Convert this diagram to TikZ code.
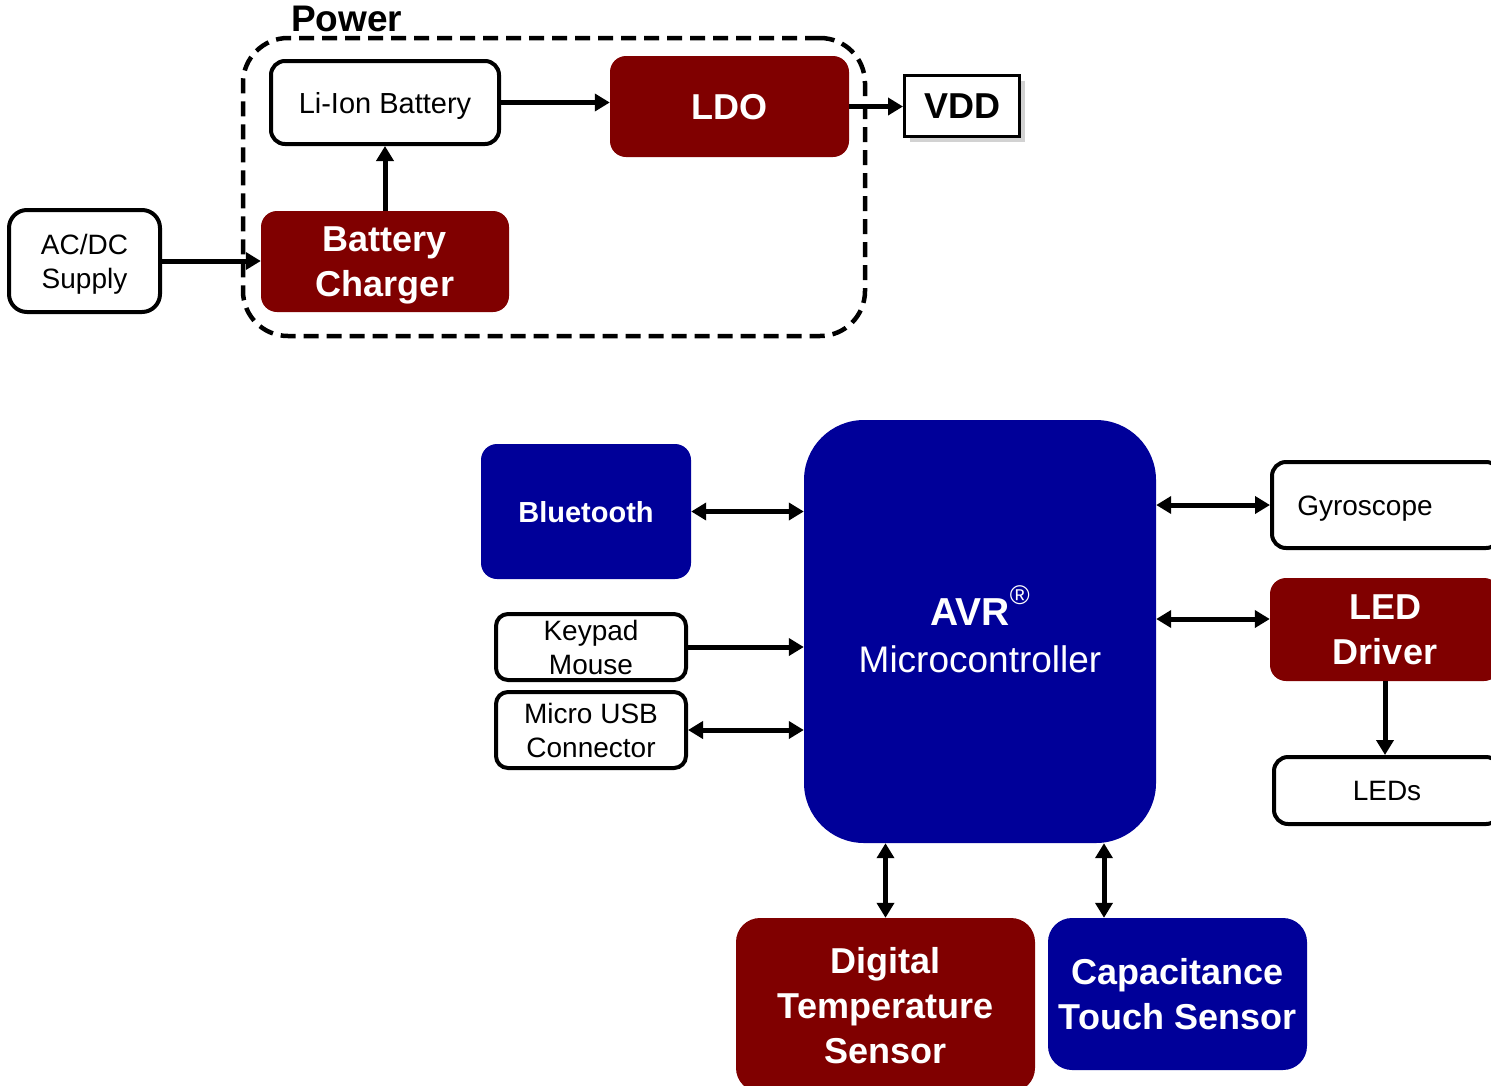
\documentclass[tikz,border=0pt]{standalone}
\usepackage{fontspec}
\setmainfont{Liberation Sans}
\usetikzlibrary{arrows.meta,shadows}
\definecolor{dred}{RGB}{128,0,0}
\definecolor{dblue}{RGB}{0,0,153}
\begin{document}
\begin{tikzpicture}[x=1pt,y=-1pt,
  wbox/.style={draw=black, line width=4pt, rounded corners=14pt, fill=white, inner sep=0pt, align=center, text depth=0pt, font=\fontsize{28}{34}\selectfont},
  rbox/.style={fill=dred, rounded corners=16pt, text=white, inner sep=0pt, align=center, text depth=0pt, font=\fontsize{36}{45}\selectfont\bfseries},
  bbox/.style={fill=dblue, rounded corners=16pt, text=white, inner sep=0pt, align=center, text depth=0pt, font=\fontsize{36}{45}\selectfont\bfseries},
  tip/.tip={Triangle[length=15pt,width=17pt]},
  arr/.style={line width=5pt, -tip},
  darr/.style={line width=5pt, tip-tip},
  plain/.style={inner sep=0pt},
]
\useasboundingbox (0,0) rectangle (1491,1085);
\clip (0,0) rectangle (1491,1085);

% ---------- Power section ----------
\node[draw=black, line width=4.5pt, dash pattern=on 15pt off 8pt, rounded corners=45pt,
      minimum width=622pt, minimum height=298pt, inner sep=0pt] (power) at (554,187) {};
\node[plain, anchor=base west, font=\fontsize{37}{40}\selectfont\bfseries] (powerlbl) at (291,31) {Power};

\node[wbox, minimum width=228pt, minimum height=83pt, font=\fontsize{29}{34}\selectfont] (li) at (385,102.5) {Li-Ion Battery};
\node[rbox, minimum width=239pt, minimum height=101pt] (ldo) at (729.5,106.5) {LDO};
\node[draw=black, line width=3pt, fill=white, inner sep=0pt, text depth=0pt,
      drop shadow={shadow xshift=5pt, shadow yshift=-5pt, fill=black!35},
      minimum width=115pt, minimum height=61pt, font=\fontsize{36}{45}\selectfont\bfseries] (vdd) at (962,106) {VDD};
\node[rbox, minimum width=248pt, minimum height=101pt] (chg) at (385,261.5) {Battery\\Charger};
\node[wbox, rounded corners=18pt, minimum width=151pt, minimum height=102pt] (acdc) at (84.5,261) {AC/DC\\Supply};

\draw[arr] (acdc.east) -- (acdc.east -| chg.west);
\draw[arr] (chg.north) -- (chg.north |- li.south);
\draw[arr] (li.east) -- (li.east -| ldo.west);
\draw[arr] (ldo.east) -- (ldo.east -| vdd.west);

% ---------- Microcontroller section ----------
\node[fill=dblue, rounded corners=60pt, minimum width=352pt, minimum height=423pt, inner sep=0pt] (avr) at (980,631.5) {};
\node[plain, anchor=base, text=white, font=\fontsize{39}{45}\selectfont\bfseries] (avrt1) at (980,625) {AVR\raisebox{21pt}{\fontsize{27}{27}\selectfont\mdseries ®}};
\node[plain, anchor=base, text=white, font=\fontsize{37}{45}\selectfont] (avrt2) at (980,672) {Microcontroller};

\node[bbox, minimum width=210pt, minimum height=135pt, font=\fontsize{29}{34}\selectfont\bfseries] (bt) at (586,511.5) {Bluetooth};
\node[wbox, rounded corners=12pt, minimum width=190pt, minimum height=66pt] (key) at (591,647) {Keypad\\Mouse};
\node[wbox, rounded corners=12pt, minimum width=190pt, minimum height=76pt] (usb) at (591,730) {Micro USB\\Connector};

\node[wbox, minimum width=228pt, minimum height=86pt] (gyro) at (1386,505) {};
\node[plain, text depth=0pt, font=\fontsize{28}{34}\selectfont] (gyrot) at (1365,506) {Gyroscope};
\node[rbox, minimum width=230pt, minimum height=103pt] (led) at (1385,629.5) {LED\\Driver};
\node[wbox, minimum width=226pt, minimum height=67pt] (leds) at (1387,790.5) {LEDs};

\node[rbox, rounded corners=24pt, minimum width=299pt, minimum height=174pt] (temp) at (885.5,1005) {Digital\\Temperature\\Sensor};
\node[bbox, rounded corners=24pt, minimum width=259pt, minimum height=152pt] (cap) at (1177.5,994) {Capacitance\\Touch Sensor};

\draw[darr] (bt.east) -- (bt.east -| avr.west);
\draw[arr] (key.east) -- (key.east -| avr.west);
\draw[darr] (usb.east) -- (usb.east -| avr.west);
\draw[darr] (gyro.west -| avr.east) -- (gyro.west);
\draw[darr] ([yshift=10.5pt]led.west -| avr.east) -- ([yshift=10.5pt]led.west);
\draw[arr] (led.south) -- (led.south |- leds.north);
\draw[darr] (temp.north |- avr.south) -- (temp.north);
\draw[darr] ([xshift=-73.5pt]cap.north |- avr.south) -- ([xshift=-73.5pt]cap.north);
\end{tikzpicture}
\end{document}
